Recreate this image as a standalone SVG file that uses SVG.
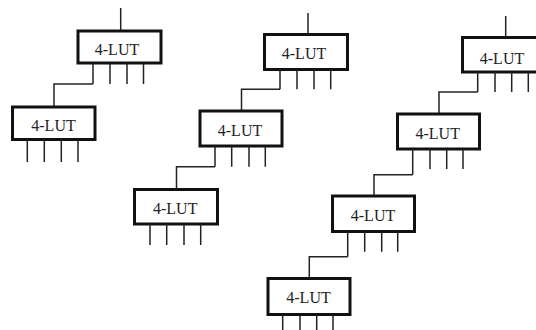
<svg xmlns="http://www.w3.org/2000/svg" width="536" height="330" viewBox="0 0 536 330">
<style>
.box{fill:#fff;stroke:#111;stroke-width:3}
.pin{stroke:#222;stroke-width:1.5;fill:none}
.wire{stroke:#222;stroke-width:1.5;fill:none}
.lbl{font-family:"Liberation Serif","Times New Roman",serif;font-size:16px;fill:#222;text-anchor:middle}
</style>
<rect width="536" height="330" fill="#fff"/>
<g id="connectors">
<line class="wire" x1="120.7" y1="8" x2="120.7" y2="31"/>
<line class="wire" x1="308" y1="13" x2="308" y2="34"/>
<line class="wire" x1="505.7" y1="16" x2="505.7" y2="37"/>
<path class="wire" d="M93,84 H54 V107"/>
<path class="wire" d="M280,89.3 H241.5 V111"/>
<path class="wire" d="M215,166.7 H176.5 V189.5"/>
<path class="wire" d="M477.7,92 H439 V114"/>
<path class="wire" d="M412.7,174.7 H374 V196"/>
<path class="wire" d="M347.7,256.7 H309.3 V278.5"/>
</g>
<g id="lut1">
<rect class="box" x="78" y="31" width="83" height="32"/>
<text class="lbl" x="117" y="54.5">4-LUT</text>
<path class="pin" d="M93,63V84M110,63V84M127,63V84M143.5,63V84"/>
</g>
<g id="lut2">
<rect class="box" x="12.5" y="107" width="82.5" height="32.5"/>
<text class="lbl" x="53.5" y="131">4-LUT</text>
<path class="pin" d="M27.3,139.5V162M44.3,139.5V162M61.3,139.5V162M78,139.5V162"/>
</g>
<g id="lut3">
<rect class="box" x="264.5" y="34.5" width="83" height="35"/>
<text class="lbl" x="304" y="59">4-LUT</text>
<path class="pin" d="M280,69.5V89.3M297,69.5V89.3M314,69.5V89.3M330.7,69.5V89.3"/>
</g>
<g id="lut4">
<rect class="box" x="200" y="111" width="82" height="35"/>
<text class="lbl" x="240" y="136">4-LUT</text>
<path class="pin" d="M215,146V166.7M231.7,146V166.7M249,146V166.7M265.3,146V166.7"/>
</g>
<g id="lut5">
<rect class="box" x="134.5" y="189.5" width="83" height="34.5"/>
<text class="lbl" x="175.2" y="214">4-LUT</text>
<path class="pin" d="M150,224V245M166.7,224V245M184,224V245M200.7,224V245"/>
</g>
<g id="lut6">
<rect class="box" x="462.5" y="37.5" width="83" height="34.5"/>
<text class="lbl" x="502" y="63.5">4-LUT</text>
<path class="pin" d="M477.7,72V92M495,72V92M511.7,72V92M528.3,72V92"/>
</g>
<g id="lut7">
<rect class="box" x="397.5" y="114" width="82" height="35"/>
<text class="lbl" x="437.7" y="139">4-LUT</text>
<path class="pin" d="M412.7,149V174.7M430,149V169M446.7,149V169M463,149V169"/>
</g>
<g id="lut8">
<rect class="box" x="332.5" y="196" width="82" height="35.5"/>
<text class="lbl" x="373" y="221">4-LUT</text>
<path class="pin" d="M347.7,231.5V256.7M364.7,231.5V251.7M381.7,231.5V251.7M397.7,231.5V251.7"/>
</g>
<g id="lut9">
<rect class="box" x="268" y="278.5" width="82" height="36"/>
<text class="lbl" x="308.5" y="302.5">4-LUT</text>
<path class="pin" d="M282.7,314.5V330M300,314.5V330M316.7,314.5V330M333,314.5V330"/>
</g>
</svg>
